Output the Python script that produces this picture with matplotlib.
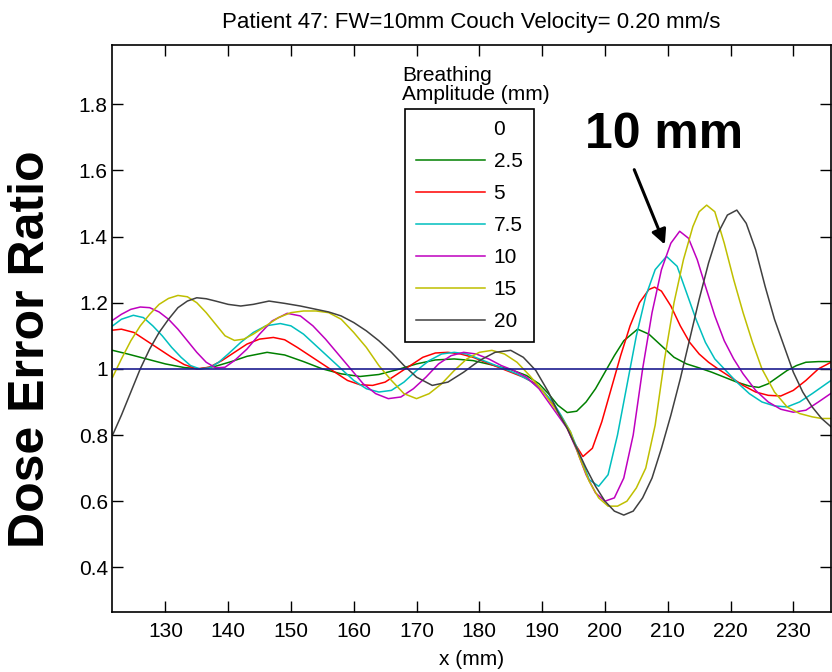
import matplotlib
matplotlib.use("Agg")
import matplotlib.pyplot as plt
from matplotlib.lines import Line2D

plt.rcParams['font.family'] = ['Liberation Sans', 'DejaVu Sans']

# breathing amplitudes (mm) and their line colours
amplitudes = ['0', '2.5', '5', '7.5', '10', '15', '20']
colors = ['#1c1c8f', '#008000', '#ff0000', '#00bfbf', '#bf00bf', '#bfbf00', '#404040']

# amplitude 0: no motion, ratio stays at 1
x0 = [121.5, 236]
y0 = [1.0, 1.0]

x25 = [121.6, 124, 127, 130, 133, 135.5, 138, 140.5, 143, 146.2, 149, 152, 155, 158, 161, 164, 167, 170,
       173, 176, 179, 182, 185, 187.5, 189.5, 191, 192.5, 194, 195.5, 197, 198.5, 200, 201.5, 203, 205.2,
       207, 209, 211, 213, 215, 217, 219, 221, 223, 224.5, 226, 227.5, 229, 230.5, 232, 234, 236]
y25 = [1.056, 1.045, 1.03, 1.015, 1.004, 1.0, 1.008, 1.022, 1.038, 1.05, 1.042, 1.022, 1.0, 0.985, 0.977,
       0.983, 0.998, 1.015, 1.027, 1.03, 1.025, 1.012, 0.998, 0.98, 0.955, 0.925, 0.89, 0.868, 0.872, 0.9,
       0.94, 0.99, 1.04, 1.085, 1.12, 1.105, 1.07, 1.035, 1.015, 1.003, 0.99, 0.975, 0.96, 0.948, 0.944,
       0.955, 0.975, 0.995, 1.01, 1.02, 1.022, 1.022]

x5 = [121.6, 123, 125, 127, 129, 131, 133, 135, 137, 139, 141, 143, 145, 147.2, 149, 151, 153, 155, 157,
      159, 161, 163, 165, 167, 169, 171, 173, 175, 177, 179, 181, 183, 185, 187, 189, 190.5, 192, 193.5,
      195, 196.5, 198, 199.5, 201, 202.5, 204, 205.5, 207, 207.9, 209, 210.5, 212, 213.5, 215, 216.5, 218,
      220, 222, 224, 226, 228, 230, 232, 234, 236]
y5 = [1.117, 1.12, 1.11, 1.085, 1.06, 1.035, 1.013, 1.0, 1.005, 1.025, 1.05, 1.075, 1.09, 1.095, 1.088,
      1.065, 1.04, 1.015, 0.99, 0.965, 0.952, 0.95, 0.96, 0.985, 1.01, 1.035, 1.048, 1.05, 1.045, 1.035,
      1.02, 1.005, 0.99, 0.975, 0.955, 0.925, 0.885, 0.84, 0.78, 0.735, 0.76, 0.84, 0.94, 1.04, 1.13, 1.2,
      1.24, 1.247, 1.235, 1.19, 1.13, 1.08, 1.045, 1.02, 1.0, 0.975, 0.95, 0.93, 0.92, 0.918, 0.935, 0.965,
      1.0, 1.02]

x75 = [121.6, 123, 124.9, 126.5, 128, 129.5, 131, 132.5, 134, 135.5, 137, 138.5, 140, 142, 144, 146,
       148.3, 150, 152, 154, 156, 158, 160, 162, 164, 166, 168, 170, 172, 174, 176, 178, 180, 182, 184,
       186, 188, 190, 191.7, 193, 194.5, 196, 197.5, 199, 200.5, 202, 203.5, 205, 206.5, 208, 209.8,
       211.5, 213, 214.5, 216, 217.5, 219, 221, 223, 225, 227, 229, 231, 233, 234.5, 236]
y75 = [1.13, 1.15, 1.162, 1.155, 1.13, 1.1, 1.065, 1.035, 1.01, 1.0, 1.003, 1.02, 1.045, 1.08, 1.11, 1.13,
       1.137, 1.13, 1.105, 1.07, 1.035, 1.0, 0.965, 0.94, 0.93, 0.935, 0.96, 0.995, 1.025, 1.045, 1.05,
       1.045, 1.03, 1.015, 1.0, 0.985, 0.965, 0.935, 0.9, 0.86, 0.81, 0.74, 0.665, 0.645, 0.68, 0.8, 0.95,
       1.1, 1.22, 1.3, 1.34, 1.31, 1.23, 1.15, 1.08, 1.03, 1.0, 0.96, 0.925, 0.9, 0.888, 0.885, 0.9, 0.925,
       0.945, 0.965]

x10 = [121.6, 123, 124.5, 126, 127.5, 129, 130.5, 132, 133.5, 135, 136.5, 138, 139.5, 141, 143, 145, 147,
       149.4, 151.5, 153.5, 155.5, 157.5, 159.5, 161.5, 163.5, 165.5, 167.5, 169.5, 171.5, 173.5, 175.5,
       177.5, 179.5, 181.5, 183.5, 185.5, 187.5, 189.5, 191, 192.5, 194, 195.5, 197, 198.5, 200, 201.5,
       203, 204.5, 206, 207.5, 209, 210.5, 211.9, 213.3, 214.7, 216, 217.5, 219, 220.5, 222, 224, 226, 228,
       230, 232, 234, 236]
y10 = [1.147, 1.165, 1.18, 1.187, 1.185, 1.172, 1.15, 1.12, 1.085, 1.05, 1.02, 1.003, 1.005, 1.025, 1.06,
       1.105, 1.145, 1.168, 1.16, 1.13, 1.09, 1.045, 1.0, 0.955, 0.925, 0.91, 0.915, 0.94, 0.975, 1.015,
       1.04, 1.05, 1.045, 1.03, 1.01, 0.995, 0.975, 0.94, 0.9, 0.86, 0.82, 0.755, 0.68, 0.625, 0.6, 0.61,
       0.67, 0.8, 1.0, 1.17, 1.3, 1.38, 1.416, 1.395, 1.33, 1.25, 1.16, 1.085, 1.03, 0.985, 0.935, 0.9,
       0.878, 0.869, 0.875, 0.9, 0.926]

x15 = [121.6, 123, 124.5, 126, 127.5, 129, 130.5, 132, 133.5, 135, 136.5, 138, 139.5, 141, 142.5, 144,
       146, 148, 150, 152, 154, 156, 158, 160, 162, 164, 166, 168, 170, 172, 174, 176, 178, 180, 182, 184,
       186, 188, 190, 191.5, 193, 194.5, 196, 197.5, 199, 200.5, 202, 203.5, 205, 206.5, 208, 209.5, 211,
       212.5, 214, 215, 216.2, 217.5, 219, 220.5, 222, 223.5, 225, 227, 229, 231, 233, 234.5, 236]
y15 = [0.975, 1.03, 1.085, 1.13, 1.165, 1.195, 1.213, 1.222, 1.218, 1.2, 1.17, 1.135, 1.1, 1.086, 1.09,
       1.105, 1.13, 1.155, 1.17, 1.175, 1.175, 1.17, 1.15, 1.11, 1.065, 1.01, 0.965, 0.925, 0.91, 0.925,
       0.955, 0.995, 1.03, 1.05, 1.056, 1.045, 1.02, 0.98, 0.935, 0.895, 0.855, 0.81, 0.73, 0.66, 0.61,
       0.585, 0.585, 0.6, 0.64, 0.7, 0.83, 1.03, 1.2, 1.33, 1.43, 1.475, 1.495, 1.475, 1.38, 1.27, 1.17,
       1.08, 1.0, 0.93, 0.885, 0.865, 0.855, 0.85, 0.85]

x20 = [121.6, 123, 124.5, 126, 127.5, 129, 130.5, 132, 133.5, 135, 136.5, 138, 140, 142, 144, 146.5, 149,
       151.5, 154, 156, 158, 160, 162, 164, 166, 168, 170, 172.5, 175, 177.5, 180, 182.5, 185, 187, 189,
       191, 192.5, 194, 195.5, 197, 198.5, 200, 201.5, 203, 204.5, 206, 207.5, 209, 210.5, 212, 213.5,
       215, 216.5, 218, 219.5, 221, 222.5, 224, 225.5, 227, 228.5, 230, 231.5, 233, 234.5, 236]
y20 = [0.8, 0.86, 0.93, 1.0, 1.06, 1.11, 1.15, 1.185, 1.205, 1.215, 1.212, 1.205, 1.195, 1.19, 1.195,
       1.205, 1.198, 1.19, 1.18, 1.172, 1.16, 1.14, 1.115, 1.085, 1.05, 1.01, 0.975, 0.95, 0.96, 0.99,
       1.025, 1.05, 1.056, 1.035, 0.995, 0.93, 0.87, 0.82, 0.76, 0.7, 0.645, 0.6, 0.57, 0.558, 0.57, 0.61,
       0.67, 0.76, 0.86, 0.97, 1.09, 1.21, 1.32, 1.41, 1.465, 1.48, 1.44, 1.36, 1.25, 1.15, 1.07, 0.99,
       0.93, 0.885, 0.85, 0.825]

series = [(x0, y0), (x25, y25), (x5, y5), (x75, y75), (x10, y10), (x15, y15), (x20, y20)]

fig = plt.figure(figsize=(8.32, 6.72), dpi=100)
ax = fig.add_axes([112 / 832, 60 / 672, 719 / 832, 567.3 / 672])

for (xs, ys), c in list(zip(series, colors))[1:]:
    ax.plot(xs, ys, color=c, lw=1.1)
ax.plot(x0, y0, color=colors[0], lw=1.2, zorder=3)

ax.set_xlim(121.5, 236)
ax.set_ylim(0.265, 1.98)
ax.set_xticks(range(130, 231, 10))
ax.set_yticks([0.4, 0.6, 0.8, 1.0, 1.2, 1.4, 1.6, 1.8])
ax.set_yticklabels(['0.4', '0.6', '0.8', '1', '1.2', '1.4', '1.6', '1.8'])
ax.tick_params(direction='in', top=True, right=True, length=8, width=1, labelsize=15)
ax.tick_params(axis='x', pad=7)
ax.tick_params(axis='y', pad=3)
for sp in ax.spines.values():
    sp.set_linewidth(1.2)

ax.set_title('Patient 47: FW=10mm Couch Velocity= 0.20 mm/s', fontsize=16, pad=12)
ax.set_xlabel('x (mm)', fontsize=15, labelpad=7)
fig.text(31 / 832, 1 - 349 / 672, 'Dose Error Ratio', rotation=90, ha='center', va='center',
         fontsize=36, fontweight='bold')

# legend: the 0 mm entry has no sample line
handles = [Line2D([], [], color='none')] + [Line2D([], [], color=c, lw=1.1) for c in colors[1:]]
leg = ax.legend(handles, amplitudes, loc='upper left', bbox_to_anchor=(0.4075, 0.8867),
                borderaxespad=0, fancybox=False, framealpha=1, edgecolor='black',
                fontsize=15, handlelength=3.3, handletextpad=0.4, labelspacing=0.62,
                borderpad=0.55)
leg.get_frame().set_linewidth(1.2)
ax.text(0.4035, 0.895, 'Breathing\nAmplitude (mm)', transform=ax.transAxes, fontsize=15,
        ha='left', va='bottom', linespacing=1.05)

ax.annotate('10 mm', xy=(209.7, 1.368), xytext=(209.4, 1.707), fontsize=36, fontweight='bold',
            ha='center', va='center')
ax.annotate('', xy=(209.7, 1.368), xytext=(204.5, 1.61),
            arrowprops=dict(arrowstyle='-|>', color='black', lw=2.2, mutation_scale=22))

fig.savefig('out.png', dpi=100)
